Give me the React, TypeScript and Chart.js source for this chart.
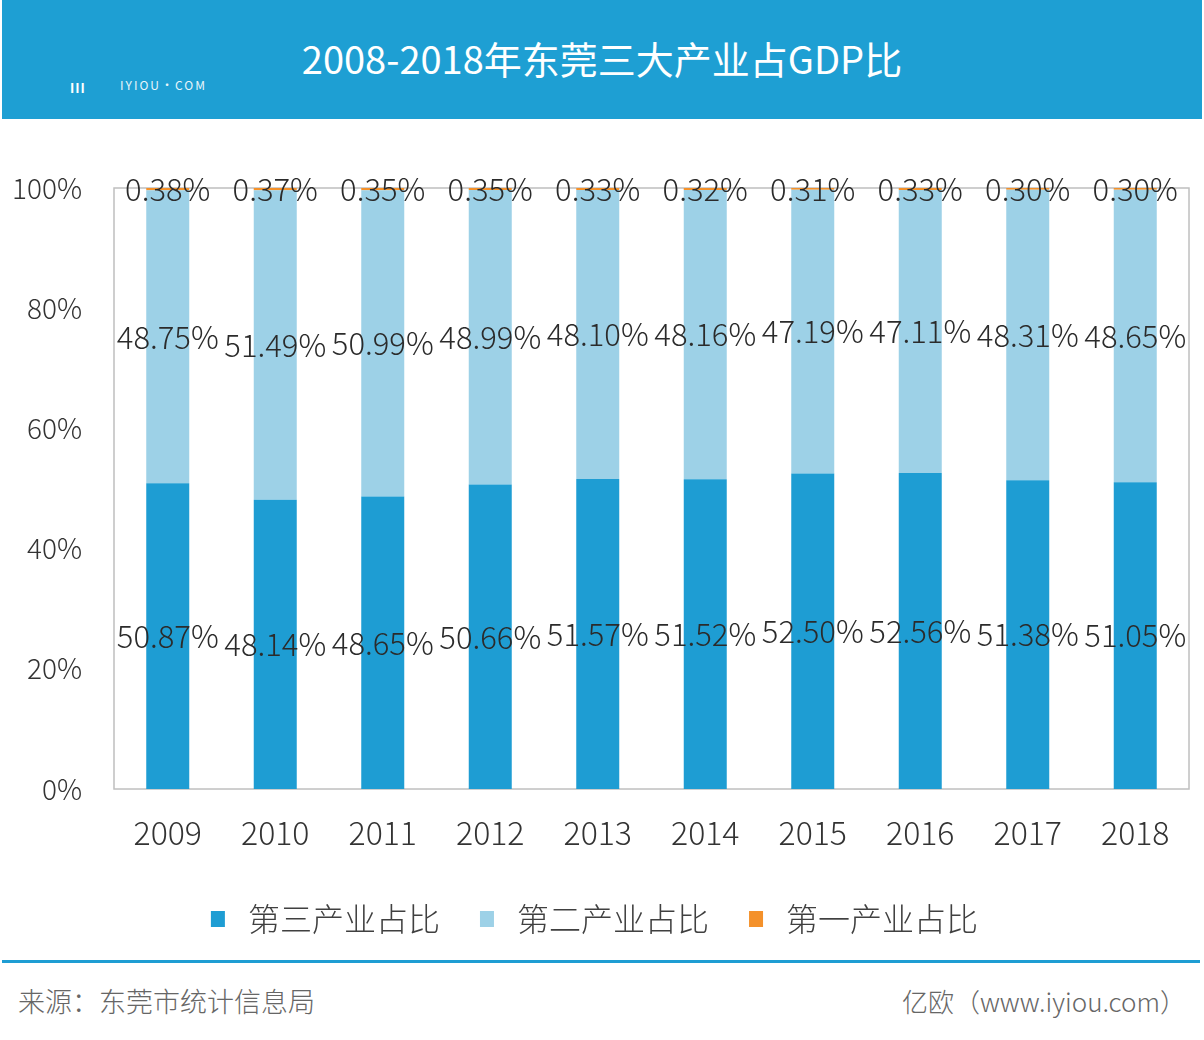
import React, { useEffect, useRef } from "react";
import { Chart, registerables } from "chart.js";

Chart.register(...registerables);

const years = ["2009", "2010", "2011", "2012", "2013", "2014", "2015", "2016", "2017", "2018"];
const tertiary = [50.87, 48.14, 48.65, 50.66, 51.57, 51.52, 52.5, 52.56, 51.38, 51.05];
const secondary = [48.75, 51.49, 50.99, 48.99, 48.1, 48.16, 47.19, 47.11, 48.31, 48.65];
const primary = [0.38, 0.37, 0.35, 0.35, 0.33, 0.32, 0.31, 0.33, 0.3, 0.3];
const seriesNames = ["第三产业占比", "第二产业占比", "第一产业占比"];
const seriesColors = ["#1E9DD3", "#9DD1E7", "#F4912A"];

const title = "2008-2018年东莞三大产业占GDP比";
const sourceText = "来源：东莞市统计信息局";
const brandText = "亿欧（www.iyiou.com）";

const FONT = '"Noto Sans CJK SC", "Open Sans", "Noto Sans", sans-serif';

const valueLabels = {
  id: "valueLabels",
  afterDatasetsDraw(chart: any) {
    const ctx = chart.ctx;
    ctx.save();
    ctx.font = `300 31px ${FONT}`;
    ctx.fillStyle = "#2B2B2B";
    ctx.textAlign = "center";
    ctx.textBaseline = "middle";
    chart.data.datasets.forEach((ds: any, i: number) => {
      const meta = chart.getDatasetMeta(i);
      meta.data.forEach((bar: any, j: number) => {
        const { x, y, base } = bar.getProps(["x", "y", "base"], true);
        ctx.fillText(Number(ds.data[j]).toFixed(2) + "%", x, (y + base) / 2);
      });
    });
    ctx.restore();
  },
};

const plotFrame = {
  id: "plotFrame",
  beforeDatasetsDraw(chart: any) {
    const { ctx, chartArea } = chart;
    ctx.save();
    ctx.strokeStyle = "#BFBFBF";
    ctx.lineWidth = 1.5;
    ctx.strokeRect(chartArea.left, chartArea.top, chartArea.right - chartArea.left, chartArea.bottom - chartArea.top);
    ctx.restore();
  },
};

function ChartCanvas() {
  const ref = useRef<HTMLCanvasElement | null>(null);
  useEffect(() => {
    if (!ref.current) return;
    const data = [tertiary, secondary, primary];
    const defaultLabels = Chart.defaults.plugins.legend.labels.generateLabels;
    const chart = new Chart(ref.current, {
      type: "bar",
      data: {
        labels: years,
        datasets: seriesNames.map((name, i) => ({
          label: name,
          data: data[i],
          backgroundColor: seriesColors[i],
          borderWidth: 0,
          barPercentage: 0.4,
          categoryPercentage: 1,
        })),
      },
      options: {
        responsive: false,
        animation: false,
        devicePixelRatio: 1,
        layout: { padding: { top: 68, right: 15, left: 0, bottom: 9 } },
        plugins: {
          tooltip: { enabled: false },
          legend: {
            position: "bottom",
            labels: {
              boxWidth: 14,
              boxHeight: 16,
              padding: 40,
              color: "#404040",
              font: { family: FONT, size: 32, weight: "300" as any },
              generateLabels: (c: any) =>
                defaultLabels(c).map((item: any) => ({ ...item, text: " " + item.text })),
            },
          },
        },
        scales: {
          x: {
            stacked: true,
            grid: { display: false, drawTicks: false },
            border: { display: false },
            ticks: {
              color: "#333333",
              padding: 25,
              font: { family: FONT, size: 32, weight: "300" as any },
            },
            afterFit(scale: any) {
              scale.height = 74;
            },
          },
          y: {
            stacked: true,
            min: 0,
            max: 100,
            grid: { display: false, drawTicks: false },
            border: { display: false },
            ticks: {
              stepSize: 20,
              padding: 32,
              color: "#333333",
              font: { family: FONT, size: 28, weight: "300" as any },
              callback: (v: any) => v + "%",
            },
            afterFit(scale: any) {
              scale.width = 114;
            },
          },
        },
      },
      plugins: [plotFrame, valueLabels],
    });
    return () => chart.destroy();
  }, []);
  return (
    <canvas
      ref={ref}
      width={1204}
      height={834}
      style={{ position: "absolute", left: 0, top: 120, width: 1204, height: 834 }}
    />
  );
}

export default function App() {
  useEffect(() => {
    document.body.style.margin = "0";
  }, []);
  return (
    <div style={{ position: "relative", width: 1204, height: 1040, background: "#fff", overflow: "hidden", fontFamily: FONT }}>
      <div style={{ position: "absolute", left: 2, top: 0, width: 1200, height: 119, background: "#1E9FD3" }}>
        <div
          style={{
            position: "absolute",
            left: 0,
            width: 1200,
            top: 34,
            textAlign: "center",
            color: "#fff",
            fontSize: 38,
            fontWeight: 400,
            lineHeight: "48px",
          }}
        >
          {title}
        </div>
        <div style={{ position: "absolute", left: 68, top: 78, color: "#fff", fontSize: 13, fontWeight: 700, letterSpacing: 1 }}>
          III
        </div>
        <div style={{ position: "absolute", left: 118, top: 76, color: "#fff", fontSize: 12, letterSpacing: 2, opacity: 0.9 }}>
          IYIOU·COM
        </div>
      </div>
      <div style={{ position: "absolute", left: 2, top: 960, width: 1198, height: 3, background: "#1E9DD3" }} />
      <div style={{ position: "absolute", left: 18, top: 984, color: "#666", fontSize: 27, fontWeight: 300, lineHeight: "34px" }}>
        {sourceText}
      </div>
      <div style={{ position: "absolute", right: 18, top: 984, color: "#666", fontSize: 26, fontWeight: 300, lineHeight: "34px" }}>
        {brandText}
      </div>
      <ChartCanvas />
    </div>
  );
}
